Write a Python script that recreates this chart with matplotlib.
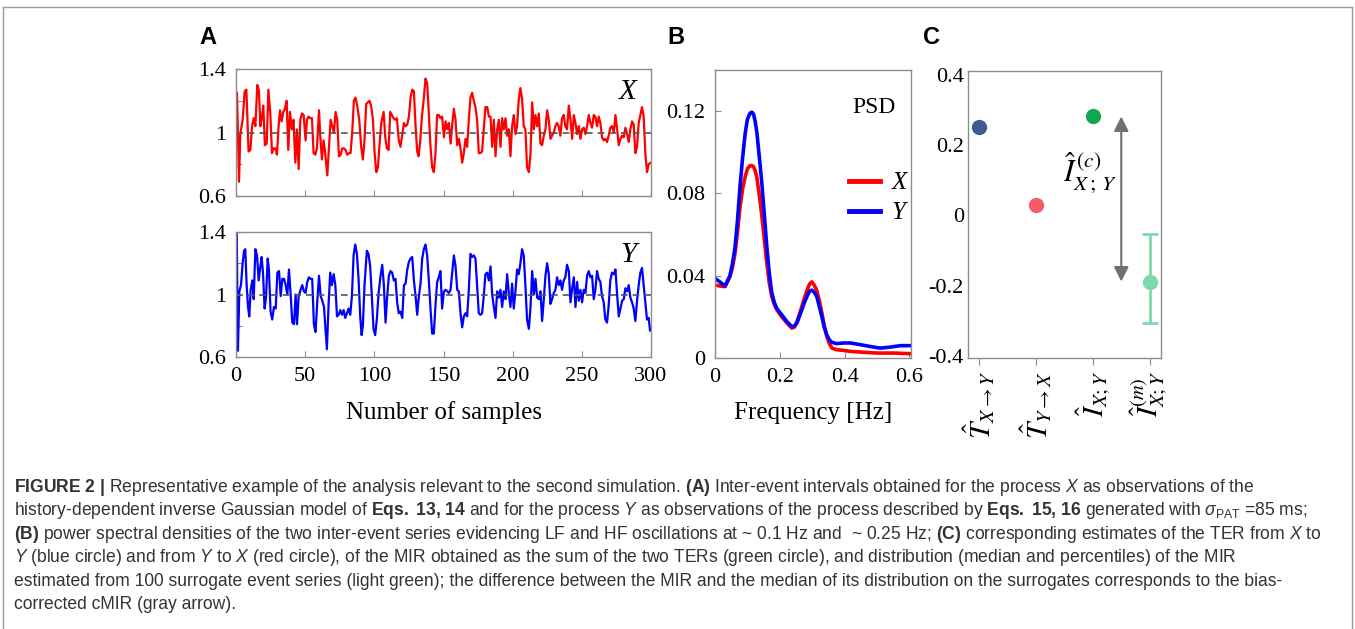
import numpy as np
import matplotlib
matplotlib.use('Agg')
import matplotlib.pyplot as plt
from matplotlib import font_manager
from matplotlib.lines import Line2D

# ---- panel A: inter-event intervals (sample index, value)
x_series = [
    (0.7, 1.25), (2.2, 0.69), (3.1, 0.99), (4.8, 1.08), (6.3, 1.26), (7.5, 1.27), (9.1, 0.88), (10.4, 0.89),
    (11.6, 1.04), (12.8, 1.09), (14.0, 1.04), (15.4, 1.30), (16.6, 1.26), (17.6, 1.04), (18.8, 1.10), (19.7, 1.17),
    (20.9, 0.92), (22.2, 0.93), (23.4, 1.27), (24.8, 1.12), (26.0, 0.87), (27.2, 0.90), (28.4, 0.90), (29.6, 0.86),
    (30.8, 1.04), (31.8, 1.14), (33.0, 1.07), (34.2, 1.13), (35.4, 1.15), (36.6, 1.20), (37.8, 0.89), (39.0, 1.13),
    (40.4, 1.02), (41.6, 1.08), (42.9, 0.81), (44.1, 1.02), (45.3, 0.77), (46.5, 1.08), (47.7, 1.12), (48.9, 1.11),
    (50.3, 0.95), (51.3, 1.08), (52.5, 1.10), (53.7, 1.09), (54.9, 1.09), (56.1, 0.87), (57.3, 0.86), (58.5, 0.90),
    (60.0, 1.14), (60.9, 0.98), (62.1, 0.83), (63.3, 0.95), (64.5, 0.87), (66.0, 0.73), (67.2, 0.91), (68.4, 1.08),
    (69.6, 1.04), (70.8, 1.00), (72.0, 1.13), (73.2, 1.08), (74.4, 0.85), (75.6, 0.86), (76.8, 0.90), (78.0, 0.90),
    (79.2, 0.89), (80.4, 0.86), (81.6, 0.87), (82.8, 0.87), (84.0, 1.00), (85.2, 1.20), (86.4, 1.22), (87.6, 1.17),
    (89.1, 1.08), (90.5, 0.91), (91.7, 0.83), (92.9, 0.95), (94.1, 1.18), (95.4, 1.19), (96.6, 1.20), (97.8, 1.16),
    (99.0, 1.08), (100.2, 0.87), (101.4, 0.75), (102.6, 0.78), (103.8, 0.93), (105.0, 1.06), (106.7, 1.13), (107.9, 0.97),
    (109.1, 0.90), (110.3, 0.89), (111.5, 1.13), (112.7, 1.11), (113.9, 1.09), (115.1, 1.08), (116.3, 1.09), (117.7, 0.95),
    (118.9, 0.91), (120.1, 0.98), (121.4, 1.06), (122.6, 1.04), (123.8, 1.05), (125.0, 1.10), (126.2, 1.22), (127.4, 1.27),
    (128.6, 1.26), (129.8, 1.04), (131.0, 0.88), (132.0, 0.85), (133.2, 0.95), (134.4, 1.10), (135.6, 1.20), (137.0, 1.34),
    (138.2, 1.31), (139.4, 1.12), (140.6, 0.91), (141.8, 0.78), (143.0, 0.75), (144.2, 0.87), (145.4, 1.11), (146.6, 1.11),
    (147.8, 1.09), (149.0, 1.10), (150.3, 0.97), (151.5, 1.07), (152.7, 1.02), (153.9, 1.06), (155.1, 0.93), (156.3, 1.05),
    (157.5, 1.15), (158.7, 1.08), (159.9, 0.92), (161.1, 0.96), (162.3, 0.90), (163.5, 0.81), (164.7, 0.87), (165.9, 0.96),
    (167.1, 0.91), (168.3, 1.08), (169.5, 1.22), (170.7, 1.25), (171.9, 1.20), (173.1, 1.16), (174.3, 1.08), (175.5, 0.87),
    (176.7, 0.87), (177.9, 0.88), (179.1, 1.02), (180.3, 1.16), (181.6, 1.16), (182.8, 1.10), (184.0, 1.10), (185.2, 0.91),
    (186.4, 1.08), (187.6, 0.85), (188.8, 1.02), (190.0, 1.08), (191.2, 0.91), (192.4, 1.09), (193.6, 1.02), (194.8, 1.09),
    (196.0, 0.98), (197.2, 1.02), (198.4, 0.85), (199.6, 1.04), (200.8, 1.11), (202.0, 0.99), (203.2, 1.04), (204.4, 1.21),
    (205.6, 1.28), (206.8, 1.21), (208.0, 1.04), (209.2, 1.02), (210.4, 0.78), (211.7, 0.75), (212.9, 0.87), (214.1, 1.19),
    (215.3, 1.02), (216.5, 1.11), (217.7, 1.04), (218.9, 1.12), (220.1, 0.93), (221.3, 0.92), (222.5, 0.98), (223.7, 1.02),
    (224.9, 1.14), (226.1, 1.08), (227.3, 0.96), (228.5, 0.98), (229.7, 1.00), (230.9, 1.04), (232.1, 1.06), (233.3, 1.04),
    (234.5, 0.98), (235.7, 1.09), (236.9, 1.11), (238.1, 1.04), (239.3, 1.02), (240.6, 1.17), (241.8, 1.08), (243.0, 0.96),
    (244.2, 1.11), (245.4, 1.06), (246.6, 0.99), (247.8, 1.04), (249.0, 0.96), (250.2, 1.02), (251.4, 1.03), (252.6, 0.99),
    (253.8, 1.04), (255.0, 1.11), (256.2, 1.06), (257.4, 1.03), (258.6, 1.11), (259.8, 1.10), (261.0, 1.04), (262.2, 1.10),
    (263.4, 1.06), (264.6, 0.97), (265.8, 0.95), (267.0, 0.96), (268.2, 0.94), (269.4, 0.98), (270.6, 1.03), (271.8, 1.04),
    (273.1, 1.00), (274.3, 1.11), (275.5, 1.02), (276.7, 0.92), (277.9, 0.96), (279.1, 0.98), (280.3, 0.97), (281.5, 1.03),
    (282.7, 0.99), (283.9, 0.94), (285.1, 1.02), (286.3, 1.07), (287.5, 1.05), (288.7, 0.87), (289.9, 0.91), (291.1, 1.06),
    (292.3, 1.11), (293.5, 1.16), (294.7, 1.10), (295.9, 0.87), (297.1, 0.75), (298.3, 0.80), (300.0, 0.81),
]

y_series = [
    (0.5, 1.41), (1.4, 0.64), (2.4, 1.02), (3.6, 1.06), (4.8, 1.20), (5.8, 1.28), (6.7, 1.29), (7.7, 1.06),
    (8.7, 0.92), (9.6, 0.86), (10.6, 1.03), (11.8, 1.09), (12.8, 0.97), (14.0, 1.29), (15.2, 1.25), (16.4, 1.09),
    (17.6, 1.18), (18.5, 1.24), (19.5, 1.14), (20.7, 0.91), (21.7, 0.98), (22.9, 1.23), (23.8, 1.16), (25.0, 0.89),
    (26.2, 0.84), (27.4, 0.92), (28.7, 0.91), (29.9, 1.14), (31.1, 1.15), (32.3, 0.99), (33.5, 1.10), (34.7, 1.10),
    (35.9, 1.06), (37.1, 1.00), (38.3, 1.16), (39.5, 1.00), (40.7, 0.82), (41.9, 0.81), (43.1, 1.00), (44.1, 0.81),
    (45.3, 0.99), (46.7, 1.03), (47.9, 1.06), (49.1, 1.02), (50.3, 1.01), (51.5, 1.08), (52.7, 1.11), (53.9, 1.10),
    (55.1, 1.10), (56.3, 0.81), (57.5, 0.76), (58.8, 0.96), (60.0, 1.12), (61.2, 0.99), (62.4, 0.96), (63.6, 0.92),
    (64.8, 0.76), (65.7, 0.65), (66.9, 0.93), (68.1, 1.14), (69.3, 1.06), (70.6, 1.13), (71.8, 1.06), (73.0, 0.86),
    (74.2, 0.87), (75.4, 0.90), (76.6, 0.87), (77.8, 0.90), (79.0, 0.85), (80.2, 0.88), (81.4, 0.91), (82.6, 0.87),
    (83.8, 0.99), (85.0, 1.25), (86.2, 1.32), (87.4, 1.26), (88.6, 1.10), (89.8, 0.86), (90.8, 0.74), (91.7, 0.80),
    (92.9, 1.06), (94.6, 1.28), (95.8, 1.26), (97.0, 1.18), (98.2, 0.99), (99.4, 0.78), (100.6, 0.74), (101.8, 0.84),
    (103.1, 1.01), (104.5, 1.12), (105.7, 1.19), (106.9, 1.06), (108.1, 0.82), (109.3, 0.99), (110.5, 1.12), (111.7, 1.15),
    (112.9, 1.14), (114.1, 1.09), (115.3, 1.10), (116.5, 0.95), (117.7, 0.88), (118.9, 0.89), (120.2, 0.85), (121.4, 1.06),
    (122.6, 1.07), (123.8, 1.16), (125.0, 1.21), (126.2, 1.23), (127.4, 1.24), (128.6, 1.09), (129.8, 0.99), (131.0, 0.87),
    (132.2, 0.99), (133.4, 1.07), (134.6, 1.23), (135.8, 1.29), (137.0, 1.32), (138.2, 1.25), (139.4, 1.09), (140.6, 0.91),
    (141.8, 0.75), (143.0, 0.75), (144.2, 0.93), (145.4, 1.08), (146.6, 1.11), (147.8, 1.15), (149.0, 0.91), (150.3, 1.02),
    (151.5, 1.03), (152.7, 1.02), (153.9, 1.01), (155.1, 1.03), (156.3, 1.14), (157.5, 1.25), (158.7, 1.18), (159.9, 1.03),
    (161.1, 1.02), (162.3, 0.88), (163.5, 0.79), (164.7, 0.86), (165.9, 0.88), (167.1, 0.86), (168.3, 1.03), (169.5, 1.26),
    (170.7, 1.24), (171.9, 1.25), (173.1, 1.23), (174.3, 1.06), (175.5, 0.88), (176.7, 0.87), (177.9, 0.88), (179.1, 0.99),
    (180.3, 1.13), (181.6, 1.14), (182.8, 1.09), (184.0, 1.18), (185.2, 1.00), (186.4, 0.92), (187.6, 0.85), (188.8, 1.02),
    (190.0, 0.98), (191.2, 1.03), (192.4, 0.92), (193.6, 1.02), (194.8, 0.97), (196.0, 1.13), (197.2, 1.01), (198.4, 0.92),
    (199.6, 1.07), (200.8, 0.91), (202.0, 1.02), (203.2, 1.16), (204.4, 1.13), (205.6, 1.20), (206.8, 1.29), (208.0, 1.25),
    (209.2, 1.06), (210.4, 0.84), (211.7, 0.78), (212.9, 0.92), (214.1, 1.15), (215.3, 1.00), (216.5, 1.10), (217.7, 0.98),
    (218.9, 0.97), (220.1, 1.02), (221.3, 0.83), (222.5, 0.97), (223.7, 1.12), (224.9, 1.20), (226.1, 1.13), (227.3, 0.94),
    (228.5, 0.97), (229.7, 1.01), (230.9, 1.03), (232.1, 1.11), (233.3, 1.06), (234.5, 1.09), (235.7, 1.03), (236.9, 1.09),
    (238.1, 1.11), (239.3, 1.19), (240.6, 1.15), (241.8, 0.95), (243.0, 1.04), (244.2, 1.11), (245.4, 0.92), (246.6, 1.08),
    (247.8, 0.96), (249.0, 1.03), (250.2, 0.95), (251.4, 1.03), (252.6, 1.01), (253.8, 1.12), (255.0, 1.15), (256.2, 1.11),
    (257.4, 1.12), (258.6, 0.97), (259.8, 1.03), (261.0, 1.15), (262.2, 1.10), (263.4, 1.08), (264.6, 0.99), (265.8, 0.95),
    (267.0, 0.84), (268.2, 0.82), (269.4, 0.93), (270.6, 1.09), (271.8, 1.14), (273.1, 1.13), (274.3, 1.16), (275.5, 1.00),
    (276.7, 0.86), (277.9, 0.91), (279.1, 0.96), (280.3, 0.97), (281.5, 1.04), (282.7, 1.02), (283.9, 1.06), (285.1, 0.98),
    (286.3, 0.95), (287.5, 0.91), (288.7, 0.83), (289.9, 0.96), (291.1, 1.06), (292.3, 1.14), (293.5, 1.17), (294.7, 1.06),
    (295.9, 0.95), (297.1, 0.84), (298.3, 0.85), (299.3, 0.77),
]

# ---- panel B: power spectral densities (frequency, psd)
psd_x = [
    (0, 0.0355), (0.015, 0.035), (0.031, 0.0347), (0.046, 0.0395), (0.054, 0.044), (0.062, 0.051), (0.070, 0.062),
    (0.077, 0.073), (0.085, 0.082), (0.093, 0.088), (0.100, 0.092), (0.108, 0.0935), (0.114, 0.0935), (0.119, 0.093),
    (0.124, 0.091), (0.129, 0.088), (0.136, 0.080), (0.144, 0.070), (0.152, 0.058), (0.160, 0.046), (0.167, 0.037),
    (0.175, 0.030), (0.183, 0.026), (0.191, 0.0234), (0.206, 0.020), (0.222, 0.017), (0.237, 0.0145), (0.245, 0.015),
    (0.253, 0.0177), (0.260, 0.021), (0.268, 0.025), (0.276, 0.029), (0.284, 0.033), (0.292, 0.036), (0.299, 0.037),
    (0.306, 0.0355), (0.314, 0.033), (0.322, 0.028), (0.330, 0.0218), (0.337, 0.016), (0.345, 0.0105), (0.353, 0.007),
    (0.361, 0.0048), (0.376, 0.004), (0.397, 0.0037), (0.418, 0.0032), (0.448, 0.0029), (0.5, 0.0024), (0.552, 0.0024),
    (0.603, 0.0021),
]
psd_y = [
    (0, 0.0387), (0.015, 0.037), (0.031, 0.035), (0.046, 0.040), (0.054, 0.046), (0.062, 0.054), (0.070, 0.068),
    (0.077, 0.083), (0.085, 0.097), (0.093, 0.109), (0.100, 0.116), (0.108, 0.119), (0.114, 0.1195), (0.119, 0.1185),
    (0.124, 0.115), (0.129, 0.110), (0.136, 0.099), (0.144, 0.086), (0.152, 0.070), (0.160, 0.054), (0.167, 0.042),
    (0.175, 0.032), (0.183, 0.027), (0.191, 0.024), (0.206, 0.021), (0.222, 0.0177), (0.237, 0.0153), (0.245, 0.0155),
    (0.253, 0.017), (0.260, 0.020), (0.268, 0.0234), (0.276, 0.027), (0.284, 0.030), (0.292, 0.0325), (0.299, 0.033),
    (0.306, 0.032), (0.314, 0.030), (0.322, 0.025), (0.330, 0.020), (0.337, 0.015), (0.345, 0.0113), (0.353, 0.0088),
    (0.361, 0.0076), (0.376, 0.007), (0.397, 0.0073), (0.418, 0.0073), (0.448, 0.0065), (0.479, 0.0056), (0.510, 0.0048),
    (0.541, 0.0053), (0.572, 0.006), (0.603, 0.006),
]

# ---- panel C: information measures
c_labels = [r'$\hat{T}_{X\rightarrow Y}$', r'$\hat{T}_{Y\rightarrow X}$', r'$\hat{I}_{X;Y}$', r'$\hat{I}^{(m)}_{X;Y}$']
c_values = [0.25, 0.029, 0.281]
c_colors = ['#3d5b8f', '#f45c6c', '#14a550']
surr_median = -0.188
surr_low = -0.306
surr_high = -0.052

# caption font: narrow if available
try:
    font_manager.findfont('Liberation Sans Narrow', fallback_to_default=False)
    cap_font = 'Liberation Sans Narrow'
except ValueError:
    cap_font = 'Liberation Sans'

plt.rcParams['font.family'] = ['Liberation Serif', 'DejaVu Serif']
plt.rcParams['mathtext.fontset'] = 'custom'
plt.rcParams['mathtext.rm'] = cap_font
plt.rcParams['mathtext.it'] = cap_font + ':italic'
plt.rcParams['mathtext.bf'] = cap_font + ':bold'

W, H = 1355, 629
fig = plt.figure(figsize=(W / 100, H / 100), dpi=100)
spine_col = '#8c8c8c'


def box(l, t, r, b):
    return [l / W, 1 - b / H, (r - l) / W, (b - t) / H]


def style(ax):
    for s in ax.spines.values():
        s.set_color(spine_col)
        s.set_linewidth(1.0)
    ax.tick_params(direction='in', length=4, color=spine_col, labelsize=16, pad=7)


# panel A
axX = fig.add_axes(box(236, 69, 651, 196))
axY = fig.add_axes(box(236, 232, 651, 357))
for ax, data, col, name in [(axX, x_series, '#ff0000', 'X'), (axY, y_series, '#0000ff', 'Y')]:
    d = np.array(data)
    ax.plot(d[:, 0], d[:, 1], color=col, lw=1.6)
    ax.axhline(1.0, color='#555555', lw=1.2, ls=(0, (4, 3)))
    ax.set_xlim(0, 300)
    ax.set_ylim(0.6, 1.4)
    ax.set_yticks([0.6, 0.8, 1.0, 1.2, 1.4])
    ax.set_yticklabels(['0.6', '', '1', '', '1.4'])
    ax.set_xticks(np.arange(0, 301, 50))
    style(ax)
    ax.text(0.965, 0.82, name, transform=ax.transAxes, fontsize=21, fontstyle='italic',
            ha='right', va='center')
axX.set_xticklabels([])
axY.set_xlabel('Number of samples', fontsize=18, labelpad=11)

# panel B
axB = fig.add_axes(box(715, 70, 911, 358))
dx = np.array(psd_x)
dy = np.array(psd_y)
axB.plot(dx[:, 0], dx[:, 1], color='#ff0000', lw=2.6, solid_joinstyle='round')
axB.plot(dy[:, 0], dy[:, 1], color='#0000ff', lw=2.6, solid_joinstyle='round')
axB.set_xlim(0, 0.605)
axB.set_ylim(0, 0.14)
axB.set_xticks([0, 0.2, 0.4, 0.6])
axB.set_xticklabels(['0', '0.2', '0.4', '0.6'])
axB.set_yticks([0, 0.04, 0.08, 0.12])
axB.set_yticklabels(['0', '0.04', '0.08', '0.12'])
style(axB)
axB.set_xlabel('Frequency [Hz]', fontsize=18, labelpad=11)
axB.text(0.81, 0.87, 'PSD', transform=axB.transAxes, fontsize=17, ha='center', va='center')
handles = [Line2D([], [], color='#ff0000', lw=3.5), Line2D([], [], color='#0000ff', lw=3.5)]
leg = axB.legend(handles, ['X', 'Y'], loc='upper left', bbox_to_anchor=(0.62, 0.69), frameon=False,
                 handlelength=1.25, handletextpad=0.45, labelspacing=0.3, borderpad=0,
                 prop={'family': 'Liberation Serif', 'style': 'italic', 'size': 18})

# panel C
axC = fig.add_axes(box(968, 71, 1161, 358))
for i, (v, c) in enumerate(zip(c_values, c_colors)):
    axC.plot(i + 1, v, 'o', color=c, ms=11, mec='none')
axC.errorbar(4, surr_median, yerr=[[surr_median - surr_low], [surr_high - surr_median]],
             fmt='o', color='#7fd8ab', ms=11, mec='none', elinewidth=2, capsize=6, capthick=2)
axC.annotate('', xy=(3.5, c_values[2]), xytext=(3.5, surr_median),
             arrowprops=dict(arrowstyle='<|-|>', color='#707070', lw=1.5, mutation_scale=22,
                             shrinkA=0, shrinkB=0))
axC.text(2.95, 0.12, r'$\hat{I}^{\,(c)}_{X\,;\,Y}$', fontsize=22, ha='center', va='center',
         math_fontfamily='stix')
axC.set_xlim(0.8, 4.2)
axC.set_ylim(-0.405, 0.41)
axC.set_yticks([-0.4, -0.2, 0, 0.2, 0.4])
axC.set_yticklabels(['-0.4', '-0.2', '0', '0.2', '0.4'])
axC.set_xticks([1, 2, 3, 4])
axC.set_xticklabels(c_labels, rotation=90)
style(axC)
axC.tick_params(axis='y', length=0, pad=3)
axC.tick_params(axis='x', direction='out', length=5, pad=4)
for lbl in axC.get_xticklabels():
    lbl.set_math_fontfamily('stix')
    lbl.set_fontsize(21)

# panel letters
for letter, xp in [('A', 208), ('B', 676), ('C', 932)]:
    fig.text(xp / W, 1 - 38 / H, letter, fontsize=17, fontweight='bold', family='Liberation Sans',
             ha='center', va='center')

# caption
caption = [
    r"$\mathbf{FIGURE\ 2\ |}$ Representative example of the analysis relevant to the second simulation. "
    r"$\mathbf{(A)}$ Inter-event intervals obtained for the process $X$ as observations of the",
    r"history-dependent inverse Gaussian model of $\mathbf{Eqs.\ 13{,}\ 14}$ and for the process $Y$ as observations "
    r"of the process described by $\mathbf{Eqs.\ 15{,}\ 16}$ generated with $\sigma_{\mathrm{PAT}}$ =85 ms;",
    r"$\mathbf{(B)}$ power spectral densities of the two inter-event series evidencing LF and HF oscillations at "
    r"~ 0.1 Hz and  ~ 0.25 Hz; $\mathbf{(C)}$ corresponding estimates of the TER from $X$ to",
    r"$Y$ (blue circle) and from $Y$ to $X$ (red circle), of the MIR obtained as the sum of the two TERs "
    r"(green circle), and distribution (median and percentiles) of the MIR",
    "estimated from 100 surrogate event series (light green); the difference between the MIR and the median "
    "of its distribution on the surrogates corresponds to the bias-",
    "corrected cMIR (gray arrow).",
]
for k, line in enumerate(caption):
    fig.text(14 / W, 1 - (492 + 23.4 * k) / H, line, fontsize=12.65, family=cap_font,
             color='#333333', ha='left', va='baseline')

# figure frame
fig.add_artist(Line2D([2.5 / W, 2.5 / W], [0, 1 - 7 / H], color='#9a9a9a', lw=1))
fig.add_artist(Line2D([2.5 / W, 1352 / W], [1 - 7 / H, 1 - 7 / H], color='#9a9a9a', lw=1))
fig.add_artist(Line2D([1352 / W, 1352 / W], [0, 1 - 7 / H], color='#9a9a9a', lw=1))

fig.savefig('out.png', dpi=100)
